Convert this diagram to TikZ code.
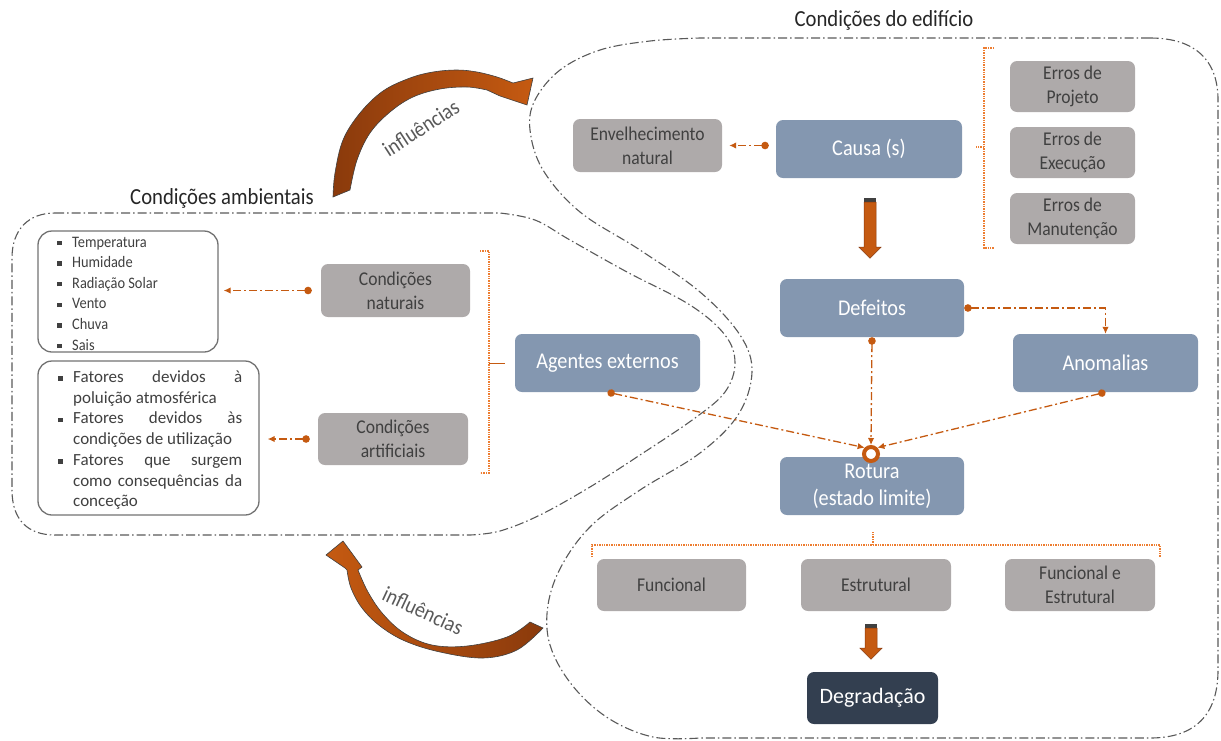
\documentclass[tikz,border=0pt]{standalone}
\usepackage{fontspec}
\setmainfont{Carlito}
\newfontfamily\condfont[FakeStretch=0.9]{Carlito}
\usetikzlibrary{arrows.meta,calc}

\definecolor{bluefill}{HTML}{8497B0}
\definecolor{greyfill}{HTML}{AEAAAA}
\definecolor{navyfill}{HTML}{333F50}
\definecolor{rust}{HTML}{C55A11}
\definecolor{rustmid}{HTML}{B04F0F}
\definecolor{rustdark}{HTML}{8A3A0C}
\definecolor{bracketcol}{HTML}{ED7D31}
\definecolor{outline}{HTML}{595959}
\definecolor{ink}{HTML}{404040}
\definecolor{titleink}{HTML}{262626}

\newcommand\sqb{\makebox[15pt][l]{\rule[1.8pt]{4.5pt}{4.5pt}}}

\tikzset{
  region/.style={draw=outline, line width=1.1pt,
    dash pattern=on 9pt off 3pt on 1.5pt off 3pt},
  box/.style={rounded corners=7pt, inner sep=0pt, align=center},
  bluenode/.style={box, fill=bluefill, text=white,
    font=\condfont\fontsize{22.5}{27}\selectfont},
  greynode/.style={box, fill=greyfill, text=ink,
    font=\condfont\fontsize{19.5}{24}\selectfont},
  navynode/.style={box, fill=navyfill, text=white,
    font=\fontsize{22}{26}\selectfont},
  listbox/.style={draw=outline!85, fill=white, line width=1.3pt,
    rounded corners=14pt, inner sep=0pt},
  conn/.style={draw=rust, line width=1.3pt,
    dash pattern=on 8pt off 3pt on 2pt off 3pt,
    {Circle[length=7.5pt]}-{Latex[length=7pt,width=6.5pt]}},
  brace/.style={draw=bracketcol, line width=1.4pt, dash pattern=on 1.4pt off 1pt},
  bigarrow/.style={draw=ink, line width=0.6pt},
  title/.style={text=titleink, font=\condfont\fontsize{23}{27}\selectfont},
  flowlabel/.style={text=outline, font=\condfont\fontsize{22}{26}\selectfont},
  pics/blockdown/.style={code={
    \fill[ink] (-6,0) rectangle (6,4);
    \filldraw[fill=rust, draw=rustdark, line width=0.5pt]
      (-6,4) -- (-6,#1) -- (-11,#1) -- (0,{#1+11}) -- (11,#1) -- (6,#1) -- (6,4) -- cycle;
  }}
}

\begin{document}
\begin{tikzpicture}[x=1pt, y=-1pt]
\useasboundingbox (0,0) rectangle (1221,740);

% environment region
\draw[region] (55,213) -- (500,213)
  -- plot[smooth, tension=0.6] coordinates {(500,213) (535,220) (570,240) (627,272)
     (690,305) (725,335) (735,363) (725,392) (695,418) (640,455) (590,487)
     (540,515) (500,531) (470,535)}
  -- (55,535) .. controls (28,535) and (12,520) .. (12,490)
  -- (12,258) .. controls (12,230) and (28,213) .. (55,213) -- cycle;

% building region
\draw[region] (1150,38) -- (700,38)
  -- plot[smooth, tension=0.6] coordinates {(700,38) (650,41) (600,50) (560,70)
     (535,100) (530,130) (543,170) (580,212) (640,250) (700,292) (740,335)
     (752,372) (738,415) (700,453) (640,490) (592,525) (562,565) (548,605)
     (550,645) (572,685) (608,718) (653,737) (700,738)}
  -- (1150,738) .. controls (1195,738) and (1218,715) .. (1218,670)
  -- (1218,100) .. controls (1218,60) and (1195,38) .. (1150,38) -- cycle;

% titles
\node[title] (tenv) at (222,198) {Condições ambientais};
\node[title] (tbld) at (884,20) {Condições do edifício};

% curved arrows between the regions
\path[bigarrow, left color=rustdark, middle color=rustmid, right color=rust]
  plot[smooth, tension=0.6] coordinates {(333,197) (335,173) (343,140) (360,113)
     (383,91) (410,78) (433,72) (457,70) (477,72) (497,77) (513,83)}
  -- (533,78) -- (527,105) -- (500,96)
  -- plot[smooth, tension=0.6] coordinates {(487,90) (467,87) (440,89) (413,97)
     (390,112) (370,133) (357,160) (350,190)}
  -- cycle;
\node[flowlabel, rotate=33] (inftop) at (421,128) {influências};

\path[bigarrow, left color=rust, middle color=rust, right color=rustdark]
  plot[smooth, tension=0.6] coordinates {(530,622) (507,637) (467,646) (432,645)
     (404,633) (383,614) (368,592) (358,570)}
  -- (362,567) -- (343,541) -- (326,555) -- (345,568)
  -- plot[smooth, tension=0.6] coordinates {(347,570) (351,588) (362,608) (380,626)
     (405,641) (440,652) (483,658) (517,650) (543,628)}
  -- cycle;
\node[flowlabel, rotate=-25] (infbot) at (423,611) {influências};

% environment: lists
\node[listbox, minimum width=180pt, minimum height=121pt] (list1) at (128,291.5) {};
\node[listbox, minimum width=221pt, minimum height=154pt] (list2) at (148.5,438) {};
\node[anchor=base west, inner sep=0pt, text=ink] (items1) at (57,247)
  {\parbox[t]{150pt}{\condfont\fontsize{16}{20.6}\selectfont\raggedright
   \sqb Temperatura\\ \sqb Humidade\\ \sqb Radiação Solar\\
   \sqb Vento\\ \sqb Chuva\\ \sqb Sais}};
\node[anchor=base west, inner sep=0pt, text=ink] (items2) at (58,382.5)
  {\parbox[t]{190pt}{\fontsize{17}{20.7}\selectfont\raggedright
   \sqb\hbox to 169pt{Fatores\hfill devidos\hfill à}\\
   \hspace*{15pt}poluição atmosférica\\
   \sqb\hbox to 169pt{Fatores\hfill devidos\hfill às}\\
   \hspace*{15pt}condições de utilização\\
   \sqb\hbox to 169pt{Fatores\hfill que\hfill surgem}\\
   \hspace*{15pt}\hbox to 169pt{como\hfill consequências\hfill da}\\
   \hspace*{15pt}conceção}};

% environment: conditions
\node[greynode, minimum width=149pt, minimum height=53pt] (natur) at (395.5,290.5) {Condições\\naturais};
\node[greynode, minimum width=150pt, minimum height=52pt] (artif) at (393,439) {Condições\\artificiais};
\node[bluenode, minimum width=185pt, minimum height=58pt] (agentes) at (607.5,363) {Agentes externos};

% building: causes
\node[greynode, minimum width=149pt, minimum height=53pt] (envel) at (647.5,145.5) {Envelhecimento\\natural};
\node[bluenode, minimum width=186pt, minimum height=58pt] (causa) at (869,149) {Causa (s)};
\node[greynode, minimum width=125pt, minimum height=51pt] (errproj) at (1072.5,86.5) {Erros de\\Projeto};
\node[greynode, minimum width=125pt, minimum height=51pt] (errexec) at (1072.5,152.5) {Erros de\\Execução};
\node[greynode, minimum width=125pt, minimum height=51pt] (errmanu) at (1072.5,218.5) {Erros de\\Manutenção};

% building: process
\node[bluenode, minimum width=184pt, minimum height=58pt] (defeitos) at (872,308) {Defeitos};
\node[bluenode, minimum width=185pt, minimum height=58pt] (anomalias) at (1105.5,363) {Anomalias};
\node[bluenode, minimum width=184pt, minimum height=58pt] (rotura) at (872,486) {Rotura\\(estado limite)};
\node[circle, draw=rust, line width=4pt, fill=white, minimum size=14pt, inner sep=0pt] (ring) at (871,454) {};

\node[greynode, minimum width=149pt, minimum height=52pt] (funcional) at (671.5,585) {Funcional};
\node[greynode, minimum width=150pt, minimum height=52pt] (estrutural) at (876,585) {Estrutural};
\node[greynode, minimum width=150pt, minimum height=52pt] (funcest) at (1080,585) {Funcional e\\Estrutural};
\node[navynode, minimum width=131pt, minimum height=52pt] (degrad) at (872.5,698) {Degradação};

% block arrows
\pic at ($(causa.south)+(1,20)$) {blockdown=49};
\pic at ($(estrutural.south)+(-5,13)$) {blockdown=24};

% brackets
\draw[brace] (480,251) -- (489,251) -- (489,473) -- (480,473);
\draw[draw=rust, line width=1pt] (489,363) -- ($(agentes.west)+(-10,0)$);
\draw[brace] (994,48) -- (984,48) -- (984,248) -- (994,248);
\draw[brace] (984,147) -- (976,147);
\draw[brace] (592,557) -- (592,545) -- (1160,545) -- (1160,557);
\draw[brace] (873,545) -- (873,531);

% connectors
\draw[conn, shorten <=9pt, shorten >=5pt] (natur.west) -- (list1.east |- natur.west);
\draw[conn, shorten <=8pt, shorten >=8pt] (artif.west) -- (list2.east |- artif.west);
\draw[conn, shorten <=7pt, shorten >=7pt] (causa.west |- envel.east) -- (envel.east);
\draw[conn] (defeitos.east) -| (anomalias.north);
\draw[conn] (defeitos.south) -- (ring.north);
\draw[conn] (agentes.south) -- (ring.north west);
\draw[conn] (anomalias.south) -- (ring.north east);
\end{tikzpicture}
\end{document}
